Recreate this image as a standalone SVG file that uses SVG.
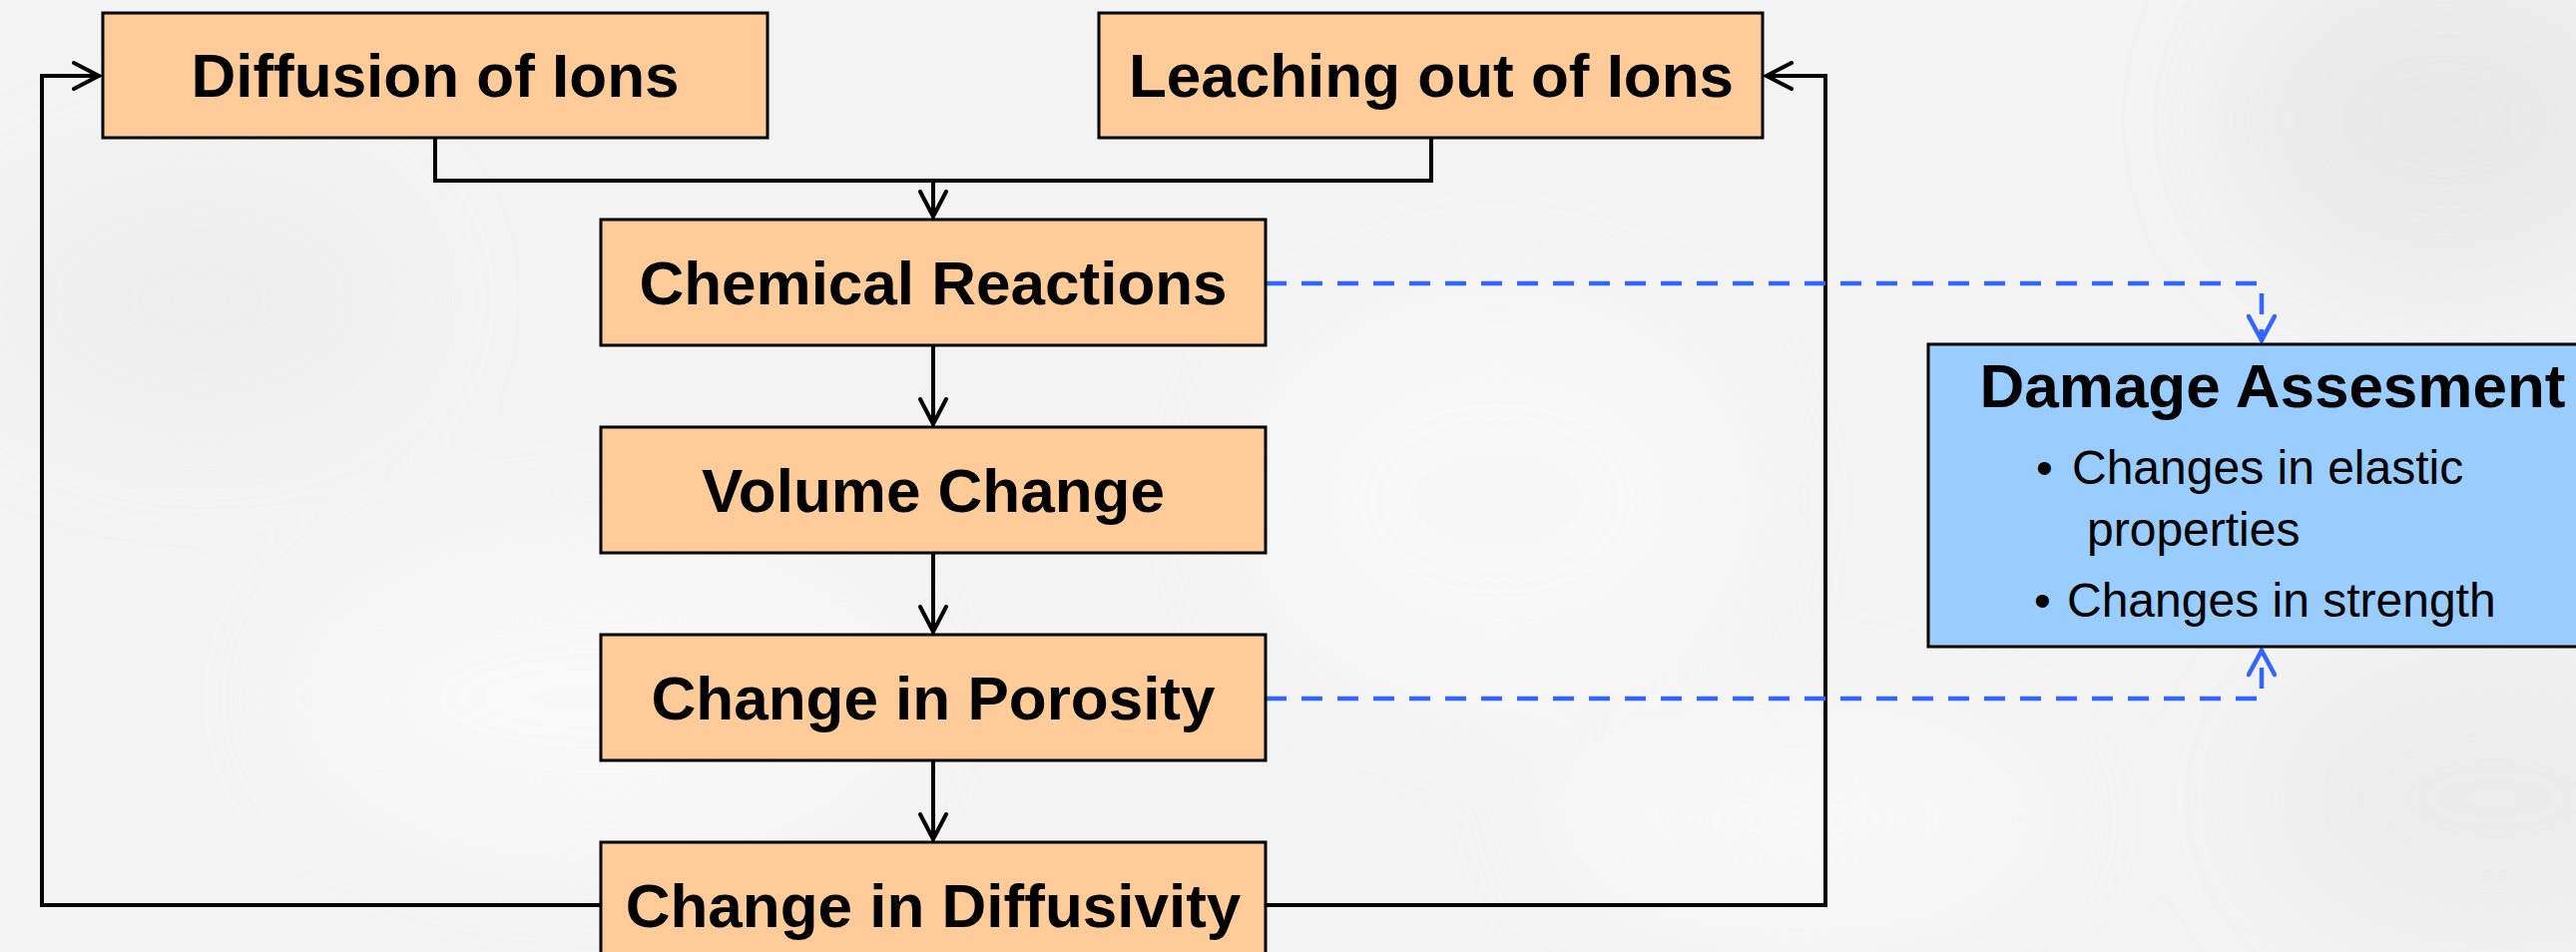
<svg xmlns="http://www.w3.org/2000/svg" width="2581" height="954" viewBox="0 0 2581 954">
<defs>
<style>
.box{fill:#FFCC99;stroke:#000;stroke-width:3}
.dbox{fill:#99CCFF;stroke:#000;stroke-width:3}
.lbl{font-family:"Liberation Sans",Arial,sans-serif;font-weight:bold;font-size:62px;fill:#000;text-anchor:middle}
.bul{font-family:"Liberation Sans",Arial,sans-serif;font-size:48px;fill:#000}
.ln{fill:none;stroke:#000;stroke-width:4}
.dash{fill:none;stroke:#3366FF;stroke-width:4.5;stroke-dasharray:21 15}
</style>
<marker id="ah" viewBox="0 0 30 30" markerWidth="30" markerHeight="30" markerUnits="userSpaceOnUse" refX="28" refY="15" orient="auto">
<path d="M2,2 L27,15 L2,28" fill="none" stroke="#000" stroke-width="4" stroke-linecap="round" stroke-linejoin="miter"/>
</marker>
<marker id="bh" viewBox="0 0 30 30" markerWidth="30" markerHeight="30" markerUnits="userSpaceOnUse" refX="28" refY="15" orient="auto">
<path d="M3,2 L27,15 L3,28" fill="none" stroke="#3366FF" stroke-width="4.5" stroke-linecap="round"/>
</marker>
<filter id="blur" x="-50%" y="-50%" width="200%" height="200%"><feGaussianBlur stdDeviation="60"/></filter>
</defs>
<rect x="0" y="0" width="2581" height="954" fill="#f3f3f3"/>
<g filter="url(#blur)" opacity="0.7">
<ellipse cx="600" cy="700" rx="300" ry="150" fill="#fbfbfb"/>
<ellipse cx="1500" cy="500" rx="250" ry="200" fill="#fafafa"/>
<ellipse cx="2450" cy="120" rx="200" ry="150" fill="#e4e4e4"/>
<ellipse cx="2500" cy="800" rx="220" ry="140" fill="#e9e9e9"/>
<ellipse cx="200" cy="300" rx="200" ry="120" fill="#ededed"/>
<ellipse cx="1800" cy="820" rx="250" ry="100" fill="#fbfbfb"/>
</g>
<g id="connectors">
<path class="ln" d="M436,138 V181 H1434 V138"/>
<path class="ln" d="M935,181 V218" marker-end="url(#ah)"/>
<path class="ln" d="M935,346 V426" marker-end="url(#ah)"/>
<path class="ln" d="M935,554 V634" marker-end="url(#ah)"/>
<path class="ln" d="M935,762 V842" marker-end="url(#ah)"/>
<path class="ln" d="M602,907 H42 V76 H100" marker-end="url(#ah)"/>
<path class="ln" d="M1268,907 H1829 V76 H1769" marker-end="url(#ah)"/>
<path class="dash" d="M1268,284 H2266 V342" marker-end="url(#bh)"/>
<path class="dash" d="M1268,700 H2266 V651" marker-end="url(#bh)"/>
</g>
<g id="diffusion-of-ions">
<rect class="box" x="103" y="13" width="666" height="125"/>
<text class="lbl" x="436" y="97">Diffusion of Ions</text>
</g>
<g id="leaching-out-of-ions">
<rect class="box" x="1101" y="13" width="665" height="125"/>
<text class="lbl" x="1434" y="97">Leaching out of Ions</text>
</g>
<g id="chemical-reactions">
<rect class="box" x="602" y="220" width="666" height="126"/>
<text class="lbl" x="935" y="305">Chemical Reactions</text>
</g>
<g id="volume-change">
<rect class="box" x="602" y="428" width="666" height="126"/>
<text class="lbl" x="935" y="513">Volume Change</text>
</g>
<g id="change-in-porosity">
<rect class="box" x="602" y="636" width="666" height="126"/>
<text class="lbl" x="935" y="721">Change in Porosity</text>
</g>
<g id="change-in-diffusivity">
<rect class="box" x="602" y="844" width="666" height="126"/>
<text class="lbl" x="935" y="929">Change in Diffusivity</text>
</g>
<g id="damage-assesment">
<rect class="dbox" x="1932" y="345" width="680" height="303"/>
<text class="lbl" x="2277" y="408">Damage Assesment</text>
<text class="bul" x="2040" y="485">•</text>
<text class="bul" x="2076" y="485">Changes in elastic</text>
<text class="bul" x="2091" y="547">properties</text>
<text class="bul" x="2038" y="618">•</text>
<text class="bul" x="2071" y="618">Changes in strength</text>
</g>
</svg>
